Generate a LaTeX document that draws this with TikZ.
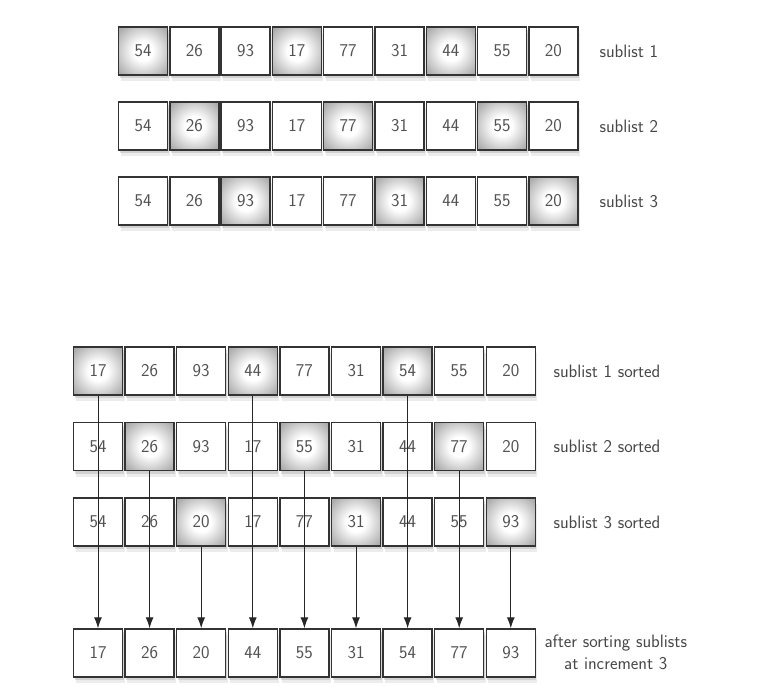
\documentclass[tikz,border=0pt]{standalone}
\usepackage{tikz}
\usetikzlibrary{arrows.meta,shadows}

\pgfdeclareradialshading{cellglow}{\pgfpoint{0bp}{0bp}}{color(0bp)=(white); color(10bp)=(white); color(32bp)=(black!32); color(50bp)=(black!45); color(75bp)=(black!52)}

\tikzset{
    cell/.style={draw=black!80, line width=1.4pt, fill=white, minimum width=49pt, minimum height=48pt,
        inner sep=0pt, text=black!68, font=\sffamily\fontsize{18}{21}\selectfont,
        drop shadow={shadow xshift=1pt, shadow yshift=-3pt, opacity=.25},
        drop shadow={shadow xshift=2pt, shadow yshift=-6pt, opacity=.15}},
    hot/.style={shading=cellglow},
    lit/.code={\ifnum#1=\row\tikzset{hot}\fi},
    tag/.style={anchor=west, text=black!72, font=\sffamily\fontsize{18}{22}\selectfont, align=center},
    arr/.style={line width=1pt, draw=black!85, -{Latex[length=11pt,width=8pt]}}
}

\begin{document}
\begin{tikzpicture}[x=1pt, y=-1pt]
    \useasboundingbox (0,0) rectangle (783,698);

    % Top: the three sublists of the unsorted list
    \foreach \row in {1,2,3} {
        \foreach \v [count=\i] in {54,26,93,17,77,31,44,55,20} {
            \pgfmathtruncatemacro\r{mod(\i-1,3)+1}
            \node[cell, lit=\r] (s\row-\i) at ({143+51.3*(\i-1)}, {51+75*(\row-1)}) {\v};
        }
        \node[tag] (sl\row) at (596, {51+75*(\row-1)}) {sublist \row};
    }

    % Bottom: each sublist sorted
    \foreach \row/\vals in {1/{17,26,93,44,77,31,54,55,20},
                            2/{54,26,93,17,55,31,44,77,20},
                            3/{54,26,20,17,77,31,44,55,93}} {
        \foreach \v [count=\i] in \vals {
            \pgfmathtruncatemacro\r{mod(\i-1,3)+1}
            \node[cell, lit=\r] (b\row-\i) at ({98+51.6*(\i-1)}, {371+75.5*(\row-1)}) {\v};
        }
        \node[tag] (bl\row) at (550, {371+75.5*(\row-1)}) {sublist \row\ sorted};
    }

    % Result after sorting the sublists
    \foreach \v [count=\i] in {17,26,20,44,55,31,54,77,93} {
        \node[cell] (f\i) at ({98+51.6*(\i-1)}, 653) {\v};
    }
    \node[tag] (fl) at (541, 652) {after sorting sublists\\at increment 3};

    % Arrows down from the shaded cells
    \foreach \i in {1,...,9} {
        \pgfmathtruncatemacro\r{mod(\i-1,3)+1}
        \draw[arr] (b\r-\i.south) -- (f\i.north);
    }
\end{tikzpicture}
\end{document}
